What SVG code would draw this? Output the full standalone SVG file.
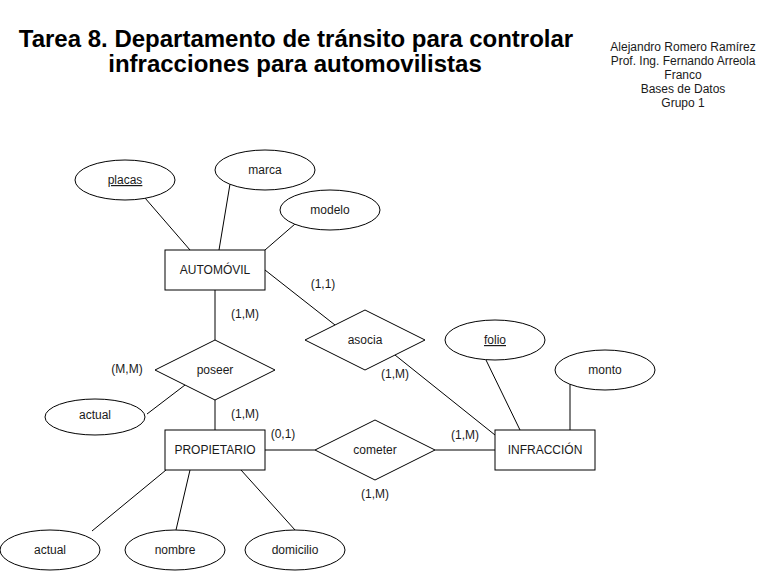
<svg xmlns="http://www.w3.org/2000/svg" width="776" height="571" viewBox="0 0 776 571">
<style>
  .shape { fill: #ffffff; stroke: #000000; stroke-width: 1; }
  .edge { fill: none; stroke: #000000; stroke-width: 1; }
  text { font-family: "Liberation Sans", Arial, Helvetica, sans-serif; font-size: 12px; fill: #1a1a1a; text-anchor: middle; }
  .title { font-size: 24px; font-weight: bold; fill: #000000; }
  .key { text-decoration: underline; }
</style>
<rect x="0" y="0" width="776" height="571" fill="#ffffff"/>

<g id="title">
  <text class="title" x="296" y="47">Tarea 8. Departamento de tránsito para controlar</text>
  <text class="title" x="295" y="72">infracciones para automovilistas</text>
</g>
<g id="author">
  <text x="683" y="51">Alejandro Romero Ramírez</text>
  <text x="683" y="65">Prof. Ing. Fernando Arreola</text>
  <text x="683" y="79">Franco</text>
  <text x="683" y="93">Bases de Datos</text>
  <text x="683" y="107">Grupo 1</text>
</g>

<g id="connectors">
  <line class="edge" x1="145" y1="198" x2="190" y2="250"/>
  <line class="edge" x1="230" y1="184" x2="219" y2="250"/>
  <line class="edge" x1="295" y1="224" x2="265" y2="250"/>
  <line class="edge" x1="265" y1="270" x2="335" y2="325"/>
  <line class="edge" x1="395" y1="355" x2="495" y2="435"/>
  <line class="edge" x1="486" y1="360" x2="520" y2="430"/>
  <line class="edge" x1="570" y1="384" x2="570" y2="430"/>
  <line class="edge" x1="215" y1="290" x2="215" y2="340"/>
  <line class="edge" x1="215" y1="400" x2="215" y2="430"/>
  <line class="edge" x1="147" y1="414" x2="185" y2="385"/>
  <line class="edge" x1="265" y1="450" x2="315" y2="450"/>
  <line class="edge" x1="435" y1="450" x2="495" y2="450"/>
  <line class="edge" x1="166" y1="470" x2="92" y2="531"/>
  <line class="edge" x1="190" y1="470" x2="176" y2="530"/>
  <line class="edge" x1="241" y1="470" x2="295" y2="530"/>
</g>

<g id="placas"><ellipse class="shape" cx="125" cy="180" rx="50" ry="20"/><text class="key" x="125" y="184">placas</text></g>
<g id="marca"><ellipse class="shape" cx="265" cy="170" rx="50" ry="20"/><text x="265" y="174">marca</text></g>
<g id="modelo"><ellipse class="shape" cx="330" cy="210" rx="50" ry="20"/><text x="330" y="214">modelo</text></g>
<g id="automovil"><rect class="shape" x="165" y="250" width="100" height="40"/><text x="215" y="274">AUTOMÓVIL</text></g>
<g id="asocia"><polygon class="shape" points="365,310 425,340 365,370 305,340"/><text x="365" y="344">asocia</text></g>
<g id="folio"><ellipse class="shape" cx="495" cy="340" rx="50" ry="20"/><text class="key" x="495" y="344">folio</text></g>
<g id="monto"><ellipse class="shape" cx="605" cy="370" rx="50" ry="20"/><text x="605" y="374">monto</text></g>
<g id="poseer"><polygon class="shape" points="215,340 275,370 215,400 155,370"/><text x="215" y="374">poseer</text></g>
<g id="actual-poseer"><ellipse class="shape" cx="95" cy="417" rx="50" ry="18"/><text x="95" y="419">actual</text></g>
<g id="propietario"><rect class="shape" x="165" y="430" width="100" height="40"/><text x="215" y="454">PROPIETARIO</text></g>
<g id="cometer"><polygon class="shape" points="375,420 435,450 375,480 315,450"/><text x="375" y="454">cometer</text></g>
<g id="infraccion"><rect class="shape" x="495" y="430" width="100" height="40"/><text x="545" y="454">INFRACCIÓN</text></g>
<g id="actual-prop"><ellipse class="shape" cx="50" cy="550" rx="50" ry="20"/><text x="50" y="554">actual</text></g>
<g id="nombre"><ellipse class="shape" cx="175" cy="550" rx="50" ry="20"/><text x="175" y="554">nombre</text></g>
<g id="domicilio"><ellipse class="shape" cx="295" cy="550" rx="50" ry="20"/><text x="295" y="554">domicilio</text></g>

<g id="cardinalities">
  <text x="323" y="288">(1,1)</text>
  <text x="245" y="318">(1,M)</text>
  <text x="127" y="373">(M,M)</text>
  <text x="395" y="378">(1,M)</text>
  <text x="245" y="418">(1,M)</text>
  <text x="283" y="438">(0,1)</text>
  <text x="465" y="439">(1,M)</text>
  <text x="375" y="498">(1,M)</text>
</g>
</svg>
